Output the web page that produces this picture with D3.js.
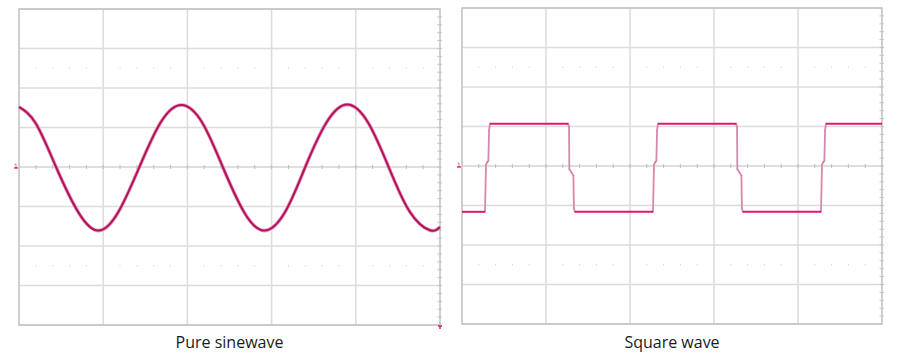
<!DOCTYPE html>
<html>
<head>
<meta charset="utf-8">
<script src="https://cdn.jsdelivr.net/npm/d3@7"></script>
<style>
  body { margin: 0; background: #fff; }
  svg { display: block; }
</style>
</head>
<body>
<svg></svg>
<script>
// Scope traces, in divisions (x: time div, y: volts div)
const sineT = [0, 0.20, 0.44, 0.70, 0.94, 1.18, 1.43, 1.68, 1.93, 2.18, 2.42, 2.67, 2.91, 3.16, 3.40, 3.65, 3.90, 4.15, 4.39, 4.64, 4.88, 5.0];
const sineV = [1.52, 1.10, 0, -1.13, -1.61, -1.14, 0, 1.12, 1.57, 1.11, 0, -1.13, -1.61, -1.14, 0, 1.12, 1.58, 1.11, 0, -1.13, -1.60, -1.52];

const squareT = [0, 0.274, 0.286, 0.300, 0.314, 0.322, 0.333,
                 1.265, 1.274, 1.278, 1.300, 1.326, 1.332, 1.342,
                 2.274, 2.286, 2.300, 2.314, 2.322, 2.333,
                 3.265, 3.274, 3.278, 3.300, 3.326, 3.332, 3.342,
                 4.274, 4.286, 4.300, 4.314, 4.322, 4.333, 5.0];
const squareV = [-1.16, -1.16, 0.03, 0.10, 0.13, 0.90, 1.07,
                 1.07, 0.98, -0.08, -0.15, -0.24, -1.06, -1.16,
                 -1.16, 0.03, 0.10, 0.13, 0.90, 1.07,
                 1.07, 0.98, -0.08, -0.15, -0.24, -1.06, -1.16,
                 -1.16, 0.03, 0.10, 0.13, 0.90, 1.07, 1.07];

const panelTitles = ["Pure sinewave", "Square wave"];
const xDivs = [0, 1, 2, 3, 4, 5];
const yDivs = [-4, -3, -2, -1, 0, 1, 2, 3, 4];
const dotRows = [-2.5, 2.5];

const width = 921;
const height = 359;

const svg = d3.select("svg")
    .attr("width", width)
    .attr("height", height);

svg.append("rect")
    .attr("width", width)
    .attr("height", height)
    .attr("fill", "#fff");

// minor steps every 1/5 division
const minorX = d3.range(0, 25.01, 1).map(d => d / 5);
const minorY = d3.range(-20, 20.01, 1).map(d => d / 5);

function drawPanel(box, title) {
    const x = d3.scaleLinear().domain([0, 5]).range([box.left, box.right]);
    const y = d3.scaleLinear().domain([-4, 4]).range([box.bottom, box.top]);
    const g = svg.append("g");

    // grid
    g.selectAll(".vgrid").data(xDivs.slice(1, -1)).join("line")
        .attr("x1", d => x(d)).attr("x2", d => x(d))
        .attr("y1", box.top).attr("y2", box.bottom)
        .attr("stroke", "#dedede").attr("stroke-width", 1.6);
    g.selectAll(".hgrid").data(yDivs.filter(d => d !== 0)).join("line")
        .attr("x1", box.left).attr("x2", box.right)
        .attr("y1", d => y(d)).attr("y2", d => y(d))
        .attr("stroke", "#dcdcdc").attr("stroke-width", 1.4);

    // dotted rows
    dotRows.forEach(r => {
        g.selectAll(null).data(minorX.filter(d => Math.abs(d - Math.round(d)) > 0.01)).join("rect")
            .attr("x", d => x(d) - 0.5).attr("y", y(r) - 0.5)
            .attr("width", 1).attr("height", 1)
            .attr("fill", "#c8c8c8");
    });

    // centre line with ticks
    g.append("line")
        .attr("x1", box.left).attr("x2", box.right)
        .attr("y1", y(0)).attr("y2", y(0))
        .attr("stroke", "#bdbdbd").attr("stroke-width", 1.2);
    g.selectAll(null).data(minorX.slice(1, -1)).join("line")
        .attr("x1", d => x(d)).attr("x2", d => x(d))
        .attr("y1", y(0) - 2).attr("y2", y(0) + 2)
        .attr("stroke", "#bdbdbd").attr("stroke-width", 1);

    // right edge ticks
    g.selectAll(null).data(minorY.slice(1, -1)).join("line")
        .attr("x1", box.right - 2.5).attr("x2", box.right + 2)
        .attr("y1", d => y(d)).attr("y2", d => y(d))
        .attr("stroke", "#c4c4c4").attr("stroke-width", 1);

    // border
    g.append("rect")
        .attr("x", box.left).attr("y", box.top)
        .attr("width", box.right - box.left).attr("height", box.bottom - box.top)
        .attr("fill", "none").attr("stroke", "#c4c4c4").attr("stroke-width", 1.6);

    // channel marker
    g.append("text")
        .attr("x", box.left - 3).attr("y", y(0) + 0.5)
        .attr("text-anchor", "middle")
        .attr("font-family", "DejaVu Sans").attr("font-size", 6)
        .attr("fill", "#e0176f")
        .text("1");
    g.append("line")
        .attr("x1", box.left - 5).attr("x2", box.left - 1)
        .attr("y1", y(0) + 1).attr("y2", y(0) + 1)
        .attr("stroke", "#e0176f").attr("stroke-width", 1.3);

    // title
    svg.append("text")
        .attr("x", (box.left + box.right) / 2)
        .attr("y", 348)
        .attr("text-anchor", "middle")
        .attr("font-family", "'Open Sans', 'Noto Sans', sans-serif")
        .attr("font-size", 16)
        .attr("fill", "#1a1a1a")
        .text(title);

    return { x, y, g };
}

// left panel: sine
const left = drawPanel({ left: 19, right: 440, top: 9, bottom: 325 }, panelTitles[0]);
const sineData = sineT.map((t, i) => [t, sineV[i]]);
const sineLine = d3.line()
    .x(d => left.x(d[0]))
    .y(d => left.y(d[1]))
    .curve(d3.curveNatural);
left.g.append("path")
    .datum(sineData)
    .attr("d", sineLine)
    .attr("fill", "none")
    .attr("stroke", "#e39abb")
    .attr("stroke-width", 3.6);
left.g.append("path")
    .datum(sineData)
    .attr("d", sineLine)
    .attr("fill", "none")
    .attr("stroke", "#b4125b")
    .attr("stroke-width", 2);

// trigger marker bottom right
left.g.append("path")
    .attr("d", `M${left.x(5) - 2},${left.y(-4) + 1}h4M${left.x(5)},${left.y(-4) + 1}v3`)
    .attr("stroke", "#e0176f").attr("stroke-width", 1.4).attr("fill", "none");

// right panel: square
const right = drawPanel({ left: 462, right: 882, top: 8, bottom: 324 }, panelTitles[1]);
const sqData = squareT.map((t, i) => [t, squareV[i]]);
const segs = d3.pairs(sqData);
const edgeSegs = segs.filter(s => s[0][1] !== s[1][1]);
const levelSegs = segs.filter(s => s[0][1] === s[1][1]);

right.g.selectAll(".edge").data(edgeSegs).join("line")
    .attr("x1", s => right.x(s[0][0])).attr("y1", s => right.y(s[0][1]))
    .attr("x2", s => right.x(s[1][0])).attr("y2", s => right.y(s[1][1]))
    .attr("stroke", "#d58aab").attr("stroke-width", 1.8)
    .attr("stroke-linecap", "round");
right.g.selectAll(".level").data(levelSegs).join("line")
    .attr("x1", s => right.x(s[0][0])).attr("y1", s => right.y(s[0][1]))
    .attr("x2", s => right.x(s[1][0])).attr("y2", s => right.y(s[1][1]))
    .attr("stroke", "#e0176f").attr("stroke-width", 2);
</script>
</body>
</html>
